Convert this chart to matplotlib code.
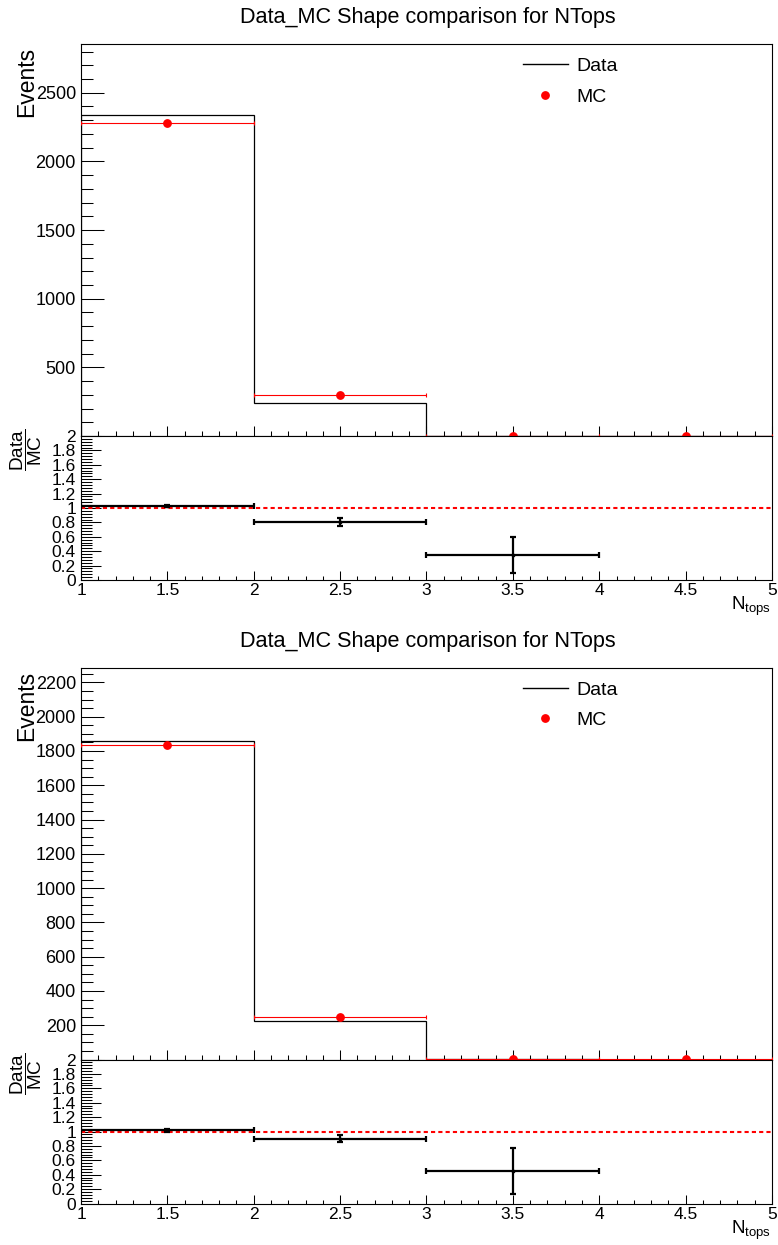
import numpy as np
import matplotlib
matplotlib.use('Agg')
import matplotlib.pyplot as plt
from matplotlib.ticker import MultipleLocator, FuncFormatter
from matplotlib.lines import Line2D

plt.rcParams['font.family'] = ['Liberation Sans', 'DejaVu Sans']
plt.rcParams['mathtext.fontset'] = 'custom'
plt.rcParams['mathtext.rm'] = 'Liberation Sans'
plt.rcParams['mathtext.it'] = 'Liberation Sans:italic'
plt.rcParams['mathtext.bf'] = 'Liberation Sans:bold'

# ---------------- data ----------------
title = "Data_MC Shape comparison for NTops"
bin_edges = [1, 2, 3, 4, 5]
bin_centers = [1.5, 2.5, 3.5, 4.5]
ratio_x = [1.5, 2.5, 3.5]

data_top = [2338, 241, 1.0, 0.0]
mc_top = [2277, 299, 2.9, 0.6]
ratio_top = [1.027, 0.806, 0.345]
ratio_err_top = [0.02, 0.05, 0.25]

data_bot = [1861, 223, 1.0, 0.0]
mc_bot = [1834, 248, 2.2, 0.5]
ratio_bot = [1.015, 0.899, 0.45]
ratio_err_bot = [0.02, 0.05, 0.32]

W, H = 778, 1245
fig = plt.figure(figsize=(W / 100, H / 100), dpi=100)


def add_ax(left, top, right, bottom):
    return fig.add_axes([left / W, 1 - bottom / H, (right - left) / W, (bottom - top) / H])


def hide_zero(v, pos):
    if abs(v) < 1e-9:
        return ''
    return f'{v:g}'


def style(ax):
    for s in ax.spines.values():
        s.set_linewidth(0.8)
        s.set_color('black')


def panel(off, data, mc, ratio, rerr, ymax, ymajor, yminor):
    L, R = 81, 772
    ax = add_ax(L, 44 + off, R, 436 + off)
    rx = add_ax(L, 436 + off, R, 580 + off)
    style(ax)
    style(rx)

    ax.stairs(data, bin_edges, baseline=0, color='black', lw=0.9, zorder=2)
    ax.errorbar(bin_centers, mc, xerr=0.5, fmt='o', color='red', ms=5.3,
                elinewidth=0.8, capsize=1.5, capthick=0.8, zorder=3)
    ax.set_xlim(1, 5)
    ax.set_ylim(0, ymax)
    ax.xaxis.set_major_locator(MultipleLocator(0.5))
    ax.xaxis.set_minor_locator(MultipleLocator(0.1))
    ax.yaxis.set_major_locator(MultipleLocator(ymajor))
    ax.yaxis.set_minor_locator(MultipleLocator(yminor))
    ax.yaxis.set_major_formatter(FuncFormatter(hide_zero))
    ax.tick_params(axis='both', which='both', direction='in', top=False, right=False,
                   width=0.75, labelbottom=False)
    ax.tick_params(axis='y', which='major', length=16.5, labelsize=13, pad=3.6)
    ax.tick_params(axis='y', which='minor', length=8.4)
    ax.tick_params(axis='x', which='major', length=7.2)
    ax.tick_params(axis='x', which='minor', length=3.6)

    handles = [Line2D([], [], color='black', lw=1),
               Line2D([], [], marker='o', color='red', ls='none', ms=5.3)]
    ax.legend(handles, ['Data', 'MC'], loc='upper left',
              bbox_to_anchor=((523 - L) / (R - L), (436 - 57.5) / 392),
              frameon=False, fontsize=14, handlelength=2.3, handletextpad=0.45,
              labelspacing=0.66, borderpad=0, borderaxespad=0)

    rx.errorbar(ratio_x, ratio, xerr=0.5, yerr=rerr, fmt='s', ms=2, color='black',
                elinewidth=1.6, capsize=2, capthick=1.6, zorder=3)
    rx.axhline(1.0, color='red', lw=1.5, ls=(0, (2, 1.5)), zorder=2)
    rx.set_xlim(1, 5)
    rx.set_ylim(0, 2)
    rx.xaxis.set_major_locator(MultipleLocator(0.5))
    rx.xaxis.set_minor_locator(MultipleLocator(0.1))
    rx.yaxis.set_major_locator(MultipleLocator(0.2))
    rx.yaxis.set_minor_locator(MultipleLocator(0.04))
    rx.xaxis.set_major_formatter(FuncFormatter(lambda v, p: f'{v:g}'))
    rx.yaxis.set_major_formatter(FuncFormatter(lambda v, p: f'{v:g}'))
    rx.tick_params(axis='both', which='both', direction='in', top=False, right=False,
                   width=0.75, labelsize=12.5)
    rx.tick_params(axis='y', which='major', length=14.4, pad=3.6)
    rx.tick_params(axis='y', which='minor', length=7.7)
    rx.tick_params(axis='x', which='major', length=6.7, pad=2.2)
    rx.tick_params(axis='x', which='minor', length=3.2)

    fig.text(427.5 / W, 1 - (23.3 + off) / H, title, ha='center', va='baseline', fontsize=15.6)
    fig.text(33 / W, 1 - (47 + off) / H, 'Events', rotation=90, rotation_mode='anchor',
             ha='right', va='baseline', fontsize=16.5)
    fig.text(26 / W, 1 - (450 + off) / H, r'$\dfrac{\mathrm{Data}}{\mathrm{MC}}$',
             rotation=90, ha='center', va='center', fontsize=13.7)
    fig.text(771 / W, 1 - (610 + off) / H, r'N$_{\mathrm{tops}}$', ha='right',
             va='baseline', fontsize=13.5)


panel(0, data_top, mc_top, ratio_top, ratio_err_top, 2855, 500, 100)
panel(623.5, data_bot, mc_bot, ratio_bot, ratio_err_bot, 2287, 200, 50)

fig.savefig('out.png', dpi=100)
